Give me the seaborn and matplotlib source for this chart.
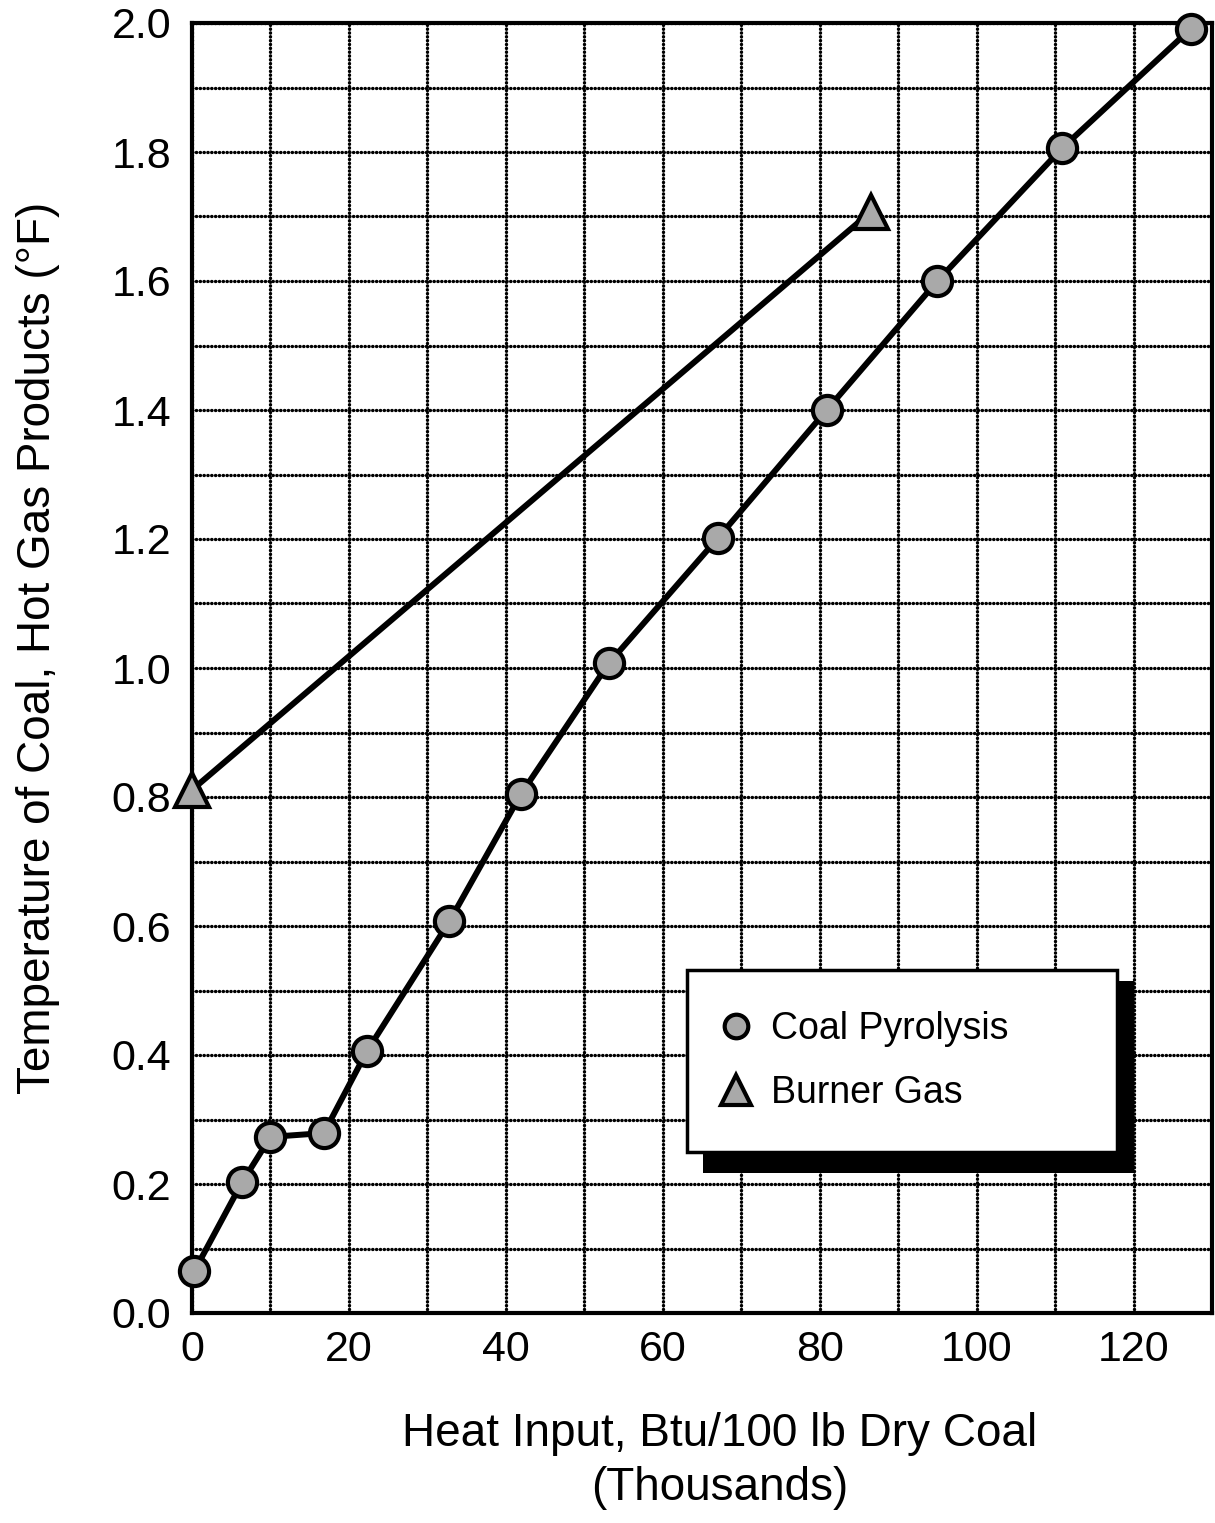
import matplotlib
matplotlib.use("Agg")
import matplotlib.pyplot as plt
import seaborn as sns
import numpy as np
import pandas as pd
from matplotlib.patches import Rectangle

# Data
coal_x = [0.3, 6.4, 10.0, 16.8, 22.3, 32.8, 41.9, 53.1, 67.0, 80.9, 95.0, 110.9, 127.3]
coal_y = [0.065, 0.203, 0.273, 0.279, 0.406, 0.607, 0.804, 1.007, 1.201, 1.400, 1.600, 1.806, 1.991]
gas_x = [0.0, 86.5]
gas_y = [0.811, 1.707]
x_ticks = [0, 20, 40, 60, 80, 100, 120]
y_ticks = [0.0, 0.2, 0.4, 0.6, 0.8, 1.0, 1.2, 1.4, 1.6, 1.8, 2.0]

sns.set_style("white")
plt.rcParams['font.family'] = ['Liberation Sans', 'DejaVu Sans']
plt.rcParams['text.color'] = 'black'
plt.rcParams['axes.labelcolor'] = 'black'
plt.rcParams['xtick.color'] = 'black'
plt.rcParams['ytick.color'] = 'black'

fig = plt.figure(figsize=(12.15, 15.23), dpi=100)
ax = fig.add_axes([192/1215, 1 - 1313/1523, 1020/1215, 1290/1523])

coal_df = pd.DataFrame({"x": coal_x, "y": coal_y})
gas_df = pd.DataFrame({"x": gas_x, "y": gas_y})

fill = "#a9a9a9"
sns.lineplot(data=coal_df, x="x", y="y", ax=ax, sort=False, color="black", lw=4.3,
             marker="o", markersize=21, markerfacecolor=fill, markeredgecolor="black",
             markeredgewidth=3, label="Coal Pyrolysis", zorder=5, clip_on=False)
sns.lineplot(data=gas_df, x="x", y="y", ax=ax, sort=False, color="black", lw=4.3,
             marker="^", markersize=25, markerfacecolor=fill, markeredgecolor="black",
             markeredgewidth=3, label="Burner Gas", zorder=5, clip_on=False)

ax.set_xlim(0, 130)
ax.set_ylim(0, 2.0)
ax.set_xticks(np.arange(0, 131, 10), minor=True)
ax.set_yticks(np.arange(0, 2.01, 0.1), minor=True)
ax.set_xticks(x_ticks)
ax.set_yticks(y_ticks)
ax.set_xticklabels([str(v) for v in x_ticks])
ax.set_yticklabels([f"{v:.1f}" for v in y_ticks])
ax.grid(which="both", color="black", linestyle=(0, (0.1, 1.05)), linewidth=2.4,
        dash_capstyle="round")
ax.set_axisbelow(True)
ax.tick_params(axis="both", which="both", length=0, labelsize=31)
ax.tick_params(axis="x", pad=12)
ax.tick_params(axis="y", pad=15)
for s in ax.spines.values():
    s.set_color("black")
    s.set_linewidth(3)

ax.set_xlabel("Heat Input, Btu/100 lb Dry Coal\n(Thousands)", fontsize=33, linespacing=1.3)
ax.xaxis.set_label_coords((720 - 192) / 1020, -(1412 - 1313) / 1290)
ax.set_ylabel("Temperature of Coal, Hot Gas Products (°F)", fontsize=33)
ax.yaxis.set_label_coords((60 - 192) / 1020, (1313 - 648) / 1290)

# legend with drop shadow
lx0, lx1 = (687 - 192) / 1020, (1117 - 192) / 1020
ly0, ly1 = (1313 - 1157) / 1290, (1313 - 965) / 1290
leg = ax.legend(loc="center", bbox_to_anchor=(lx0, ly0, lx1 - lx0, ly1 - ly0),
                mode="expand", fontsize=27, frameon=True, fancybox=False,
                edgecolor="black", framealpha=1, borderpad=1.1, labelspacing=0.75,
                handlelength=0.4, handletextpad=0.75, borderaxespad=0)
leg.get_frame().set_linewidth(2.5)
leg.set_zorder(20)
for h in leg.legend_handles:
    h.set_linestyle("none")
    h.set_markersize(17 if h.get_marker() == "o" else 22)
    h.set_markeredgewidth(3)
sx0 = (703 - 192) / 1020
sy0 = (1313 - 1173) / 1290
ax.add_patch(Rectangle((sx0, sy0), lx1 - lx0 + 0.001, ly1 - ly0, transform=ax.transAxes,
                       facecolor="black", edgecolor="none", zorder=19, clip_on=False))

fig.savefig("out.png", dpi=100)
